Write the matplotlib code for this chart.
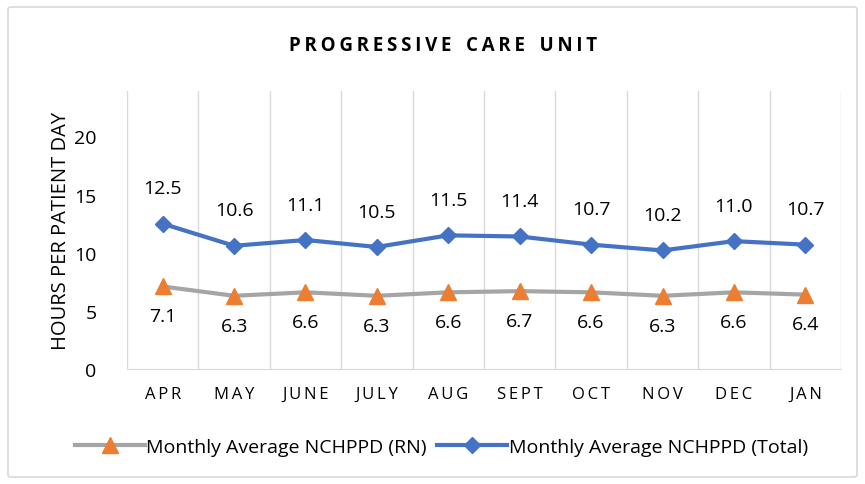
import matplotlib.pyplot as plt
from matplotlib.patches import FancyBboxPatch

months = ["APR", "MAY", "JUNE", "JULY", "AUG", "SEPT", "OCT", "NOV", "DEC", "JAN"]
rn_vals = [7.1, 6.3, 6.6, 6.3, 6.6, 6.7, 6.6, 6.3, 6.6, 6.4]
total_vals = [12.5, 10.6, 11.1, 10.5, 11.5, 11.4, 10.7, 10.2, 11.0, 10.7]

plt.rcParams['font.family'] = ['Open Sans', 'DejaVu Sans']

def spaced(s):
    # letter spacing with thin spaces
    return "\u2009".join(s)

fig = plt.figure(figsize=(8.65, 4.85), dpi=100)
ax = fig.add_axes([0.1468, 0.237, 0.8255, 0.573])

# chart border
fig.patches.append(FancyBboxPatch((8 / 865, 7 / 485), 849 / 865, 470 / 485,
                                  boxstyle="round,pad=0,rounding_size=0.004",
                                  transform=fig.transFigure, fill=False,
                                  edgecolor="#d9d9d9", linewidth=1.2))

x = list(range(len(months)))
ax.plot(x, rn_vals, color="#a5a5a5", lw=3, marker="^", markersize=11,
        markerfacecolor="#ed7d31", markeredgecolor="#ed7d31",
        label="Monthly Average NCHPPD (RN)", zorder=3)
ax.plot(x, total_vals, color="#4472c4", lw=3, marker="D", markersize=8,
        markerfacecolor="#4472c4", markeredgecolor="#4472c4",
        label="Monthly Average NCHPPD (Total)", zorder=3)

for i in x:
    ax.annotate(f"{total_vals[i]:.1f}", (i, total_vals[i]), xytext=(0, 19),
                textcoords="offset points", ha="center", va="bottom", fontsize=14)
    ax.annotate(f"{rn_vals[i]:.1f}", (i, rn_vals[i]), xytext=(0, -15),
                textcoords="offset points", ha="center", va="top", fontsize=14)

ax.set_xlim(-0.5, len(months) - 0.5)
ax.set_ylim(0, 23.9)
ax.set_yticks([0, 5, 10, 15, 20])
ax.set_xticks(x)
ax.set_xticklabels([spaced(m) for m in months])
ax.tick_params(axis="x", length=0, pad=12, labelsize=12)
ax.tick_params(axis="y", length=0, pad=22, labelsize=14)

# vertical gridlines between categories
for b in range(len(months) + 1):
    ax.axvline(b - 0.5, color="#d9d9d9", lw=1, zorder=1)

for side in ["top", "right", "left"]:
    ax.spines[side].set_visible(False)
ax.spines["bottom"].set_color("#d9d9d9")

ax.set_ylabel("HOURS PER PATIENT DAY", fontsize=14.5, labelpad=2)

fig.text(0.512, 0.905, spaced("PROGRESSIVE") + "   " + spaced("CARE") + "   " + spaced("UNIT"),
         ha="center", va="center", fontsize=13.5, fontweight="bold")

fig.legend(loc="center", bbox_to_anchor=(0.51, 0.077), ncol=2, frameon=False,
           fontsize=14, handlelength=3.6, handletextpad=0.1, columnspacing=0.5)

fig.savefig("out.png", dpi=100)
